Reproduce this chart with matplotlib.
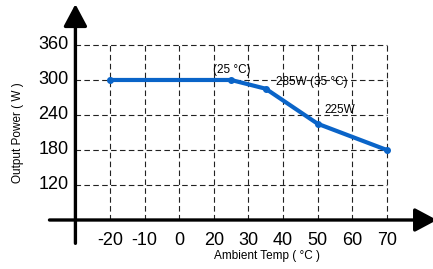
import matplotlib.pyplot as plt

plt.rcParams['font.family'] = ['Liberation Sans', 'DejaVu Sans']

# x axis is categorical: equally spaced ticks
x_labels = ['-20', '-10', '0', '20', '30', '40', '50', '60', '70']
y_ticks = [120, 180, 240, 300, 360]

# derating curve (position on category scale, power in W)
curve_pos = [0, 3.5, 4.5, 6, 8]
curve_power = [300, 300, 285, 225, 180]

fig = plt.figure(figsize=(4.33, 2.69), dpi=100)
ax = fig.add_axes([0, 0, 1, 1])
ax.set_xlim(-3.18, 9.335)
ax.set_ylim(-24, 437.1)
ax.axis('off')

y0 = 60      # where x axis sits
xl = -1      # where y axis sits
n = len(x_labels)

# dashed grid
for i in range(n):
    ax.plot([i, i], [y0, 360], color='#222222', lw=0.8, ls=(0, (5, 3)), zorder=1)
for v in y_ticks:
    ax.plot([xl, n - 1], [v, v], color='#222222', lw=0.8, ls=(0, (5, 3)), zorder=1)

# axes with arrow heads
head = '-|>,head_length=1.35,head_width=0.72'
ax.annotate('', xy=(xl, 430), xytext=(xl, 20), annotation_clip=False,
            arrowprops=dict(arrowstyle=head, lw=2.4, color='black',
                            shrinkA=0, shrinkB=0), zorder=3)
ax.annotate('', xy=(9.45, y0), xytext=(-1.75, y0), annotation_clip=False,
            arrowprops=dict(arrowstyle=head, lw=2.4, color='black',
                            shrinkA=0, shrinkB=0), zorder=3)

# tick labels
for i, lab in enumerate(x_labels):
    ax.text(i, 40, lab, ha='center', va='top', fontsize=13)
for v in y_ticks:
    ax.text(xl - 0.2, v, str(v), ha='right', va='center', fontsize=13)

ax.text(4.55, -2, 'Ambient Temp ( °C )', ha='center', va='center', fontsize=8.5)
ax.text(-2.66, 210, 'Output Power ( W )', ha='center', va='center',
        rotation=90, fontsize=8.5)

# curve
ax.plot(curve_pos, curve_power, color='#0a64c8', lw=3, marker='o', ms=4, zorder=4)

ax.text(3.53, 307, '(25 °C)', ha='center', va='bottom', fontsize=8.5)
ax.text(4.8, 297, '285W (35 °C)', ha='left', va='center', fontsize=8.5)
ax.text(6.65, 249, '225W', ha='center', va='center', fontsize=8.5)

fig.savefig('out.png', dpi=100)
